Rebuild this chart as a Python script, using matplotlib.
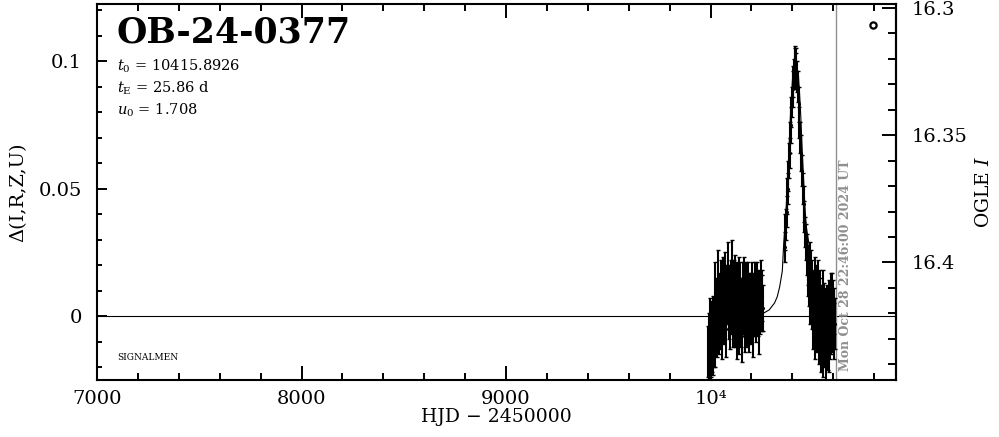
import matplotlib
matplotlib.use('Agg')
import matplotlib.pyplot as plt
from matplotlib.ticker import FixedLocator, FixedFormatter, MultipleLocator

# ---------------- data ----------------
title = "OB-24-0377"
t0_text = r"$t_0$ = 10415.8926"
tE_text = r"$t_{\rm E}$ = 25.86 d"
u0_text = r"$u_0$ = 1.708"
baseline_I = 16.421
now_hjd = 10612.45
now_text = "Mon Oct 28 22:46:00 2024 UT"

x_ticks = [7000, 8000, 9000, 10000]
x_ticklabels = ["7000", "8000", "9000", "10⁴"]
y_ticks = [0.0, 0.05, 0.1]
y_ticklabels = ["0", "0.05", "0.1"]
mag_ticks = [16.3, 16.35, 16.4]
mag_ticklabels = ["16.3", "16.35", "16.4"]

# 2023 season
t1 = [9988, 9991, 9994, 9996, 9999, 10002, 10005, 10008, 10011, 10014, 10017, 10020,
      10023, 10026, 10029, 10032, 10035, 10038, 10041, 10044, 10047, 10050, 10053, 10056,
      10059, 10062, 10065, 10068, 10071, 10074, 10077, 10080, 10083, 10086, 10089, 10092,
      10095, 10098, 10101, 10104, 10107, 10110, 10113, 10116, 10119, 10122, 10125, 10128,
      10131, 10134, 10137, 10140, 10143, 10146, 10149, 10152, 10155, 10158, 10161, 10164,
      10167, 10170, 10173, 10176, 10179, 10182, 10185, 10188, 10191, 10194, 10197, 10200,
      10203, 10206, 10209, 10212, 10215, 10218, 10221, 10224, 10227, 10230, 10233, 10236,
      10239, 10242, 10245, 10248, 10251, 10254, 10257]
d1 = [-0.014, -0.008, -0.018, -0.004, -0.012, -0.016, -0.006, -0.013, -0.002, -0.015, -0.009, 0.009,
      -0.011, -0.004, 0.004, -0.008, 0.014, 0.002, -0.006, 0.006, -0.003, 0.010, 0.001, -0.009,
      0.005, 0.012, -0.002, 0.008, 0.015, 0.003, -0.005, 0.010, 0.006, 0.017, 0.001, 0.009,
      -0.004, 0.012, 0.005, 0.019, 0.007, -0.002, 0.011, 0.004, 0.014, 0.000, 0.008, -0.007,
      0.010, 0.003, 0.013, -0.003, 0.007, 0.011, -0.001, 0.006, -0.008, 0.009, 0.002, 0.012,
      -0.004, 0.005, 0.010, -0.002, 0.007, 0.001, 0.011, -0.005, 0.004, 0.009, -0.001, 0.006,
      0.012, 0.002, -0.004, 0.008, 0.003, 0.011, -0.002, 0.006, 0.010, 0.001, 0.007, -0.003,
      0.009, 0.004, 0.012, 0.002, 0.008, 0.005, 0.003]
e1 = [0.010, 0.009, 0.008, 0.011, 0.010, 0.008, 0.012, 0.009, 0.010, 0.008, 0.011, 0.012,
      0.009, 0.010, 0.011, 0.008, 0.012, 0.010, 0.009, 0.011, 0.010, 0.012, 0.009, 0.008,
      0.010, 0.011, 0.009, 0.012, 0.010, 0.008, 0.011, 0.010, 0.009, 0.012, 0.010, 0.011,
      0.009, 0.010, 0.012, 0.011, 0.009, 0.010, 0.011, 0.008, 0.010, 0.012, 0.009, 0.010,
      0.011, 0.009, 0.010, 0.012, 0.008, 0.010, 0.011, 0.009, 0.010, 0.012, 0.009, 0.011,
      0.010, 0.008, 0.011, 0.010, 0.009, 0.012, 0.010, 0.009, 0.011, 0.008, 0.010, 0.011,
      0.009, 0.010, 0.012, 0.009, 0.011, 0.010, 0.008, 0.010, 0.011, 0.009, 0.010, 0.012,
      0.009, 0.011, 0.010, 0.008, 0.010, 0.011, 0.009]

# 2024 season (event)
t2 = [10362, 10366, 10369, 10372, 10375, 10378, 10381, 10384, 10387, 10390, 10393, 10396,
      10399, 10402, 10405, 10408, 10411, 10414, 10417, 10420, 10423, 10427, 10431, 10435,
      10439, 10443, 10447, 10451, 10455, 10459, 10463, 10467, 10471, 10475, 10479, 10482,
      10485, 10488, 10491, 10494, 10497, 10500, 10503, 10506, 10509, 10512, 10515, 10518,
      10521, 10524, 10527, 10530, 10533, 10536, 10539, 10542, 10545, 10548, 10551, 10554,
      10557, 10560, 10563, 10566, 10569, 10572, 10575, 10578, 10581, 10584, 10587, 10590,
      10593, 10596, 10599, 10602, 10605, 10608]
d2 = [0.027, 0.033, 0.036, 0.041, 0.047, 0.050, 0.055, 0.061, 0.064, 0.070, 0.075, 0.080,
      0.084, 0.089, 0.092, 0.095, 0.098, 0.100, 0.099, 0.096, 0.094, 0.090, 0.083, 0.076,
      0.070, 0.064, 0.057, 0.050, 0.044, 0.039, 0.033, 0.029, 0.024, 0.020, 0.017, 0.014,
      0.020, 0.008, 0.016, 0.004, 0.011, -0.003, 0.009, 0.002, 0.013, -0.006, 0.005, 0.010,
      -0.002, 0.007, 0.012, -0.008, 0.003, 0.009, -0.012, 0.001, -0.006, 0.006, -0.014, -0.003,
      0.004, -0.010, -0.001, -0.016, -0.005, 0.002, -0.009, -0.013, 0.003, -0.007, 0.005, -0.004,
      0.008, -0.002, 0.004, -0.006, 0.002, -0.003]
e2 = [0.006, 0.007, 0.006, 0.006, 0.007, 0.006, 0.006, 0.007, 0.006, 0.006, 0.007, 0.006,
      0.006, 0.007, 0.006, 0.006, 0.007, 0.006, 0.006, 0.007, 0.006, 0.006, 0.007, 0.006,
      0.006, 0.007, 0.006, 0.006, 0.007, 0.006, 0.006, 0.007, 0.008, 0.008, 0.009, 0.010,
      0.009, 0.011, 0.010, 0.009, 0.011, 0.010, 0.009, 0.012, 0.010, 0.011, 0.009, 0.010,
      0.012, 0.009, 0.010, 0.011, 0.012, 0.009, 0.010, 0.011, 0.009, 0.012, 0.010, 0.011,
      0.009, 0.010, 0.012, 0.009, 0.011, 0.010, 0.012, 0.009, 0.011, 0.010, 0.012, 0.011,
      0.009, 0.012, 0.010, 0.011, 0.009, 0.010]

# model curve
model_t = [10216, 10261, 10287, 10313, 10326, 10338, 10351, 10358, 10364,
           10371, 10377, 10384, 10390, 10397, 10403, 10409, 10416, 10422, 10429, 10435,
           10442, 10448, 10455, 10461, 10468, 10481, 10494, 10519, 10545, 10571, 10616]
model_d = [0.0002, 0.0012, 0.0024, 0.0051, 0.0075, 0.0114, 0.0176, 0.0286, 0.0352, 0.0439,
           0.0541, 0.0658, 0.0773, 0.0880, 0.0956, 0.0975, 0.0980, 0.0975, 0.0956, 0.0880,
           0.0773, 0.0658, 0.0541, 0.0439, 0.0352, 0.0286, 0.0176, 0.0114, 0.0075, 0.0051, 0.0024]

# ---------------- plotting ----------------
plt.rcParams['font.family'] = ['DejaVu Serif']
plt.rcParams['mathtext.fontset'] = 'dejavuserif'

fig = plt.figure(figsize=(9.99, 4.37), dpi=100)
ax = fig.add_axes([97/999, 1 - 380/437, 799/999, 376/437])
ax.set_xlim(7000, 10907)
ax.set_ylim(-0.0251, 0.1224)

ax.axhline(0, color='k', lw=0.8, zorder=1)
ax.plot(model_t, model_d, color='k', lw=0.8, zorder=2)
for tt, dd, ee in ((t1, d1, e1), (t2, d2, e2)):
    ax.errorbar(tt, dd, yerr=ee, fmt='none', ecolor='k', elinewidth=1.5,
                capsize=1.5, capthick=1.0, zorder=3)
    ax.plot(tt, dd, 'k.', ms=2.5, zorder=4)

ax.axvline(now_hjd, color='#8f8f8f', lw=1.0, zorder=2)
ax.text(10628, -0.0215, now_text, rotation=90, color='#8f8f8f', fontsize=9,
        fontweight='bold', va='bottom', ha='left')

# texts
ax.text(0.025, 0.925, title, transform=ax.transAxes, fontsize=25, fontweight='bold',
        va='center', ha='left')
ax.text(0.025, 0.835, t0_text, transform=ax.transAxes, fontsize=10.5, va='center', ha='left')
ax.text(0.025, 0.775, tE_text, transform=ax.transAxes, fontsize=10.5, va='center', ha='left')
ax.text(0.025, 0.717, u0_text, transform=ax.transAxes, fontsize=10.5, va='center', ha='left')
ax.text(0.025, 0.061, "SIGNALMEN", transform=ax.transAxes, fontsize=6.5, va='center', ha='left')
ax.plot([0.971], [0.944], transform=ax.transAxes, marker='o', ms=4.5, mfc='white',
        mec='k', mew=1.6, ls='none', clip_on=False)

# axes & ticks
for s in ax.spines.values():
    s.set_linewidth(1.5)
ax.xaxis.set_major_locator(FixedLocator(x_ticks))
ax.xaxis.set_major_formatter(FixedFormatter(x_ticklabels))
ax.xaxis.set_minor_locator(MultipleLocator(200))
ax.yaxis.set_major_locator(FixedLocator(y_ticks))
ax.yaxis.set_major_formatter(FixedFormatter(y_ticklabels))
ax.yaxis.set_minor_locator(MultipleLocator(0.01))
ax.tick_params(axis='x', which='both', direction='in', top=True, bottom=True, width=1.4,
               labelsize=14, pad=7)
ax.tick_params(axis='x', which='major', length=10)
ax.tick_params(axis='x', which='minor', length=5)
ax.tick_params(axis='y', which='both', direction='in', left=True, right=False, width=1.4,
               labelsize=14, pad=11)
ax.tick_params(axis='y', which='major', length=7)
ax.tick_params(axis='y', which='minor', length=3.5)

ax.set_xlabel("HJD − 2450000", fontsize=13.5, labelpad=0)
ax.set_ylabel("Δ(I,R,Z,U)", fontsize=14, labelpad=8)

sec = ax.secondary_yaxis('right', functions=(lambda d: baseline_I - d, lambda m: baseline_I - m))
sec.yaxis.set_major_locator(FixedLocator(mag_ticks))
sec.yaxis.set_major_formatter(FixedFormatter(mag_ticklabels))
sec.yaxis.set_minor_locator(MultipleLocator(0.01))
sec.tick_params(axis='y', which='both', direction='in', width=1.4, labelsize=14, pad=11)
sec.tick_params(axis='y', which='major', length=10)
sec.tick_params(axis='y', which='minor', length=6)
sec.spines['right'].set_linewidth(1.5)
sec.set_ylabel("OGLE $I$", fontsize=13.5, rotation=90, labelpad=6)

fig.savefig("out.png", dpi=100)
